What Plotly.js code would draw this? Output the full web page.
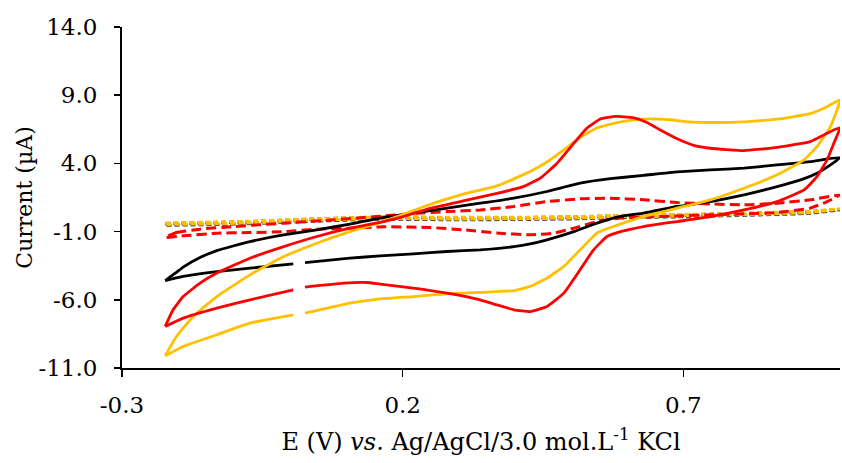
<!DOCTYPE html>
<html>
<head>
<meta charset="utf-8">
<script src="https://cdn.plot.ly/plotly-3.0.1.min.js"></script>
<style>html,body{margin:0;padding:0;background:#fff;}#chart{width:842px;height:463px;}</style>
</head>
<body>
<div id="chart"></div>
<script>
// Black solid CV
const blackE = [-0.223,-0.205,-0.191,-0.161,-0.131,-0.072,-0.012,0.047,0.106,0.160,0.219,0.279,0.338,0.398,0.457,0.516,0.570,0.629,0.689,0.748,0.808,0.867,0.926,0.979,
  0.962,0.938,0.909,0.867,0.808,0.748,0.689,0.629,0.588,0.546,0.505,0.457,0.427,0.398,0.338,0.279,0.219,0.160,0.106,0.026,null,0.005,-0.072,-0.131,-0.191,-0.223];
const blackI = [-4.59,-4.05,-3.60,-2.90,-2.39,-1.73,-1.24,-0.87,-0.45,-0.01,0.35,0.72,1.08,1.45,1.94,2.55,2.88,3.12,3.38,3.52,3.65,3.89,4.13,4.43,
  3.89,3.28,2.79,2.30,1.69,1.20,0.84,0.35,0.12,-0.38,-1.00,-1.60,-1.90,-2.10,-2.34,-2.46,-2.63,-2.78,-2.95,-3.27,null,-3.36,-3.68,-3.93,-4.29,-4.59];

// Red solid CV
const redE = [-0.223,-0.209,-0.191,-0.161,-0.131,-0.072,-0.012,0.047,0.106,0.166,0.196,0.249,0.308,0.368,0.415,0.445,0.475,0.505,0.528,0.552,0.579,0.610,0.635,0.659,0.689,0.720,0.748,0.808,0.867,0.926,0.956,0.979,
  0.968,0.956,0.938,0.915,0.867,0.808,0.748,0.689,0.629,0.588,0.564,0.540,0.516,0.487,0.457,0.427,0.398,0.368,0.338,0.279,0.219,0.160,0.136,0.095,0.026,null,0.005,-0.072,-0.131,-0.191,-0.223];
const redI = [-7.95,-6.73,-5.76,-4.78,-4.04,-2.95,-2.10,-1.36,-0.75,-0.26,0.05,0.70,1.25,1.80,2.30,2.92,4.01,5.48,6.58,7.25,7.45,7.35,7.00,6.45,5.80,5.30,5.11,4.94,5.18,5.60,6.21,6.62,
  5.48,4.26,3.03,2.06,1.20,0.59,0.10,-0.26,-0.63,-1.00,-1.36,-2.34,-3.80,-5.51,-6.49,-6.86,-6.73,-6.37,-6.00,-5.51,-5.14,-4.85,-4.73,-4.78,-5.07,null,-5.27,-6.00,-6.61,-7.34,-7.95];

// Yellow solid CV
const yellowE = [-0.223,-0.203,-0.173,-0.131,-0.072,-0.012,0.047,0.106,0.166,0.190,0.249,0.308,0.368,0.427,0.457,0.487,0.516,0.546,0.588,0.629,0.676,0.710,0.748,0.808,0.867,0.926,0.956,0.979,
  0.962,0.938,0.915,0.867,0.808,0.748,0.689,0.629,0.570,0.546,0.516,0.487,0.457,0.427,0.398,0.338,0.279,0.219,0.160,0.106,0.026,null,0.005,-0.072,-0.131,-0.191,-0.223];
const yellowI = [-10.10,-8.69,-7.22,-5.76,-4.17,-2.83,-1.85,-1.00,-0.26,0.10,1.00,1.75,2.35,3.40,4.10,4.99,5.90,6.60,7.05,7.25,7.20,7.05,7.00,7.05,7.25,7.65,8.16,8.65,
  6.70,5.23,4.26,3.16,2.18,1.33,0.72,0.10,-0.70,-1.11,-2.34,-3.56,-4.41,-5.02,-5.32,-5.46,-5.56,-5.76,-5.93,-6.24,-6.98,null,-7.10,-7.71,-8.56,-9.42,-10.10];

// Red dashed CV
const redDashE = [-0.223,-0.203,-0.161,-0.101,-0.012,0.077,0.166,0.219,0.279,0.338,0.398,0.457,0.516,0.570,0.629,0.689,0.748,0.808,0.867,0.926,0.979,
  0.956,0.926,0.867,0.808,0.748,0.689,0.629,0.588,0.546,0.505,0.469,0.427,0.368,0.308,0.249,0.166,0.106,0.047,-0.012,-0.072,-0.131,-0.191,-0.223];
const redDashI = [-1.43,-1.07,-0.82,-0.63,-0.38,-0.14,0.15,0.33,0.47,0.59,0.84,1.20,1.40,1.45,1.33,1.13,1.03,0.96,1.08,1.33,1.69,
  1.20,0.72,0.40,0.30,0.23,0.15,0.06,-0.01,-0.26,-0.75,-1.11,-1.24,-1.11,-0.87,-0.70,-0.65,-0.75,-0.82,-1.00,-1.07,-1.12,-1.31,-1.43];

// Yellow dotted CV
const yellowDotE = [-0.223,-0.131,-0.072,0.047,0.166,0.279,0.398,0.516,0.588,0.689,0.808,0.926,0.979,
  0.926,0.808,0.689,0.588,0.516,0.398,0.279,0.166,0.047,-0.072,-0.131,-0.223];
const yellowDotI = [-0.38,-0.30,-0.24,-0.05,0.08,0.05,0.05,0.10,0.20,0.25,0.35,0.50,0.66,
  0.40,0.25,0.14,0.08,0.00,-0.06,-0.07,-0.04,-0.17,-0.36,-0.42,-0.48];

// Black dotted CV (under the yellow dotted)
const blackDotE = yellowDotE.slice();
const blackDotI = [-0.42,-0.34,-0.28,-0.09,0.04,0.01,0.01,0.06,0.16,0.21,0.31,0.46,0.62,
  0.36,0.21,0.10,0.04,-0.04,-0.10,-0.11,-0.08,-0.21,-0.40,-0.46,-0.52];

const xTickVals = [-0.3, 0.2, 0.7];
const yTickVals = [-11, -6, -1, 4, 9, 14];

function tr(x, y, color, dash, width) {
  return {x: x, y: y, type: 'scatter', mode: 'lines', connectgaps: false,
    line: {color: color, width: width, dash: dash, shape: 'spline', smoothing: 0.4},
    hoverinfo: 'skip'};
}

const data = [
  tr(blackDotE, blackDotI, '#3a3a3a', '5px,3px', 3.5),
  tr(yellowDotE, yellowDotI, '#FFC000', '5px,3px', 3),
  tr(redDashE, redDashI, '#FF0000', '10px,5px', 3),
  tr(blackE, blackI, '#000000', 'solid', 2.8),
  tr(yellowE, yellowI, '#FFC000', 'solid', 2.8),
  tr(redE, redI, '#FF0000', 'solid', 2.8)
];

const fam = 'DejaVu Serif, Liberation Serif, serif';
const tickFont = {family: fam, size: 23, color: '#000'};
const xTitleFont = {family: fam, size: 24, color: '#000'};
const yTitleFont = {family: fam, size: 22, color: '#000'};

const layout = {
  width: 842, height: 463,
  margin: {l: 122, r: 2, t: 27, b: 95},
  paper_bgcolor: '#fff', plot_bgcolor: '#fff',
  showlegend: false,
  font: tickFont,
  xaxis: {
    range: [-0.3, 0.979], tickvals: xTickVals, ticktext: xTickVals.map(v => v.toFixed(1)),
    ticks: 'outside', ticklen: 7, tickwidth: 1.5, tickcolor: '#000',
    showline: true, linecolor: '#000', linewidth: 2, showgrid: false, zeroline: false,
    ticklabelstandoff: 8, tickfont: tickFont,
    title: {text: 'E (V) <i>vs.</i> Ag/AgCl/3.0 mol.L<sup>-1</sup> KCl', font: xTitleFont, standoff: 17}
  },
  yaxis: {
    range: [-11, 14], tickvals: yTickVals, ticktext: yTickVals.map(v => v.toFixed(1)),
    ticks: 'outside', ticklen: 6, tickwidth: 1.5, tickcolor: '#000',
    showline: true, linecolor: '#000', linewidth: 2, showgrid: false, zeroline: false,
    ticklabelstandoff: 12, tickfont: tickFont,
    title: {text: 'Current (µA)', font: yTitleFont, standoff: 0}
  }
};

Plotly.newPlot('chart', data, layout, {displayModeBar: false, staticPlot: true});
</script>
</body>
</html>
